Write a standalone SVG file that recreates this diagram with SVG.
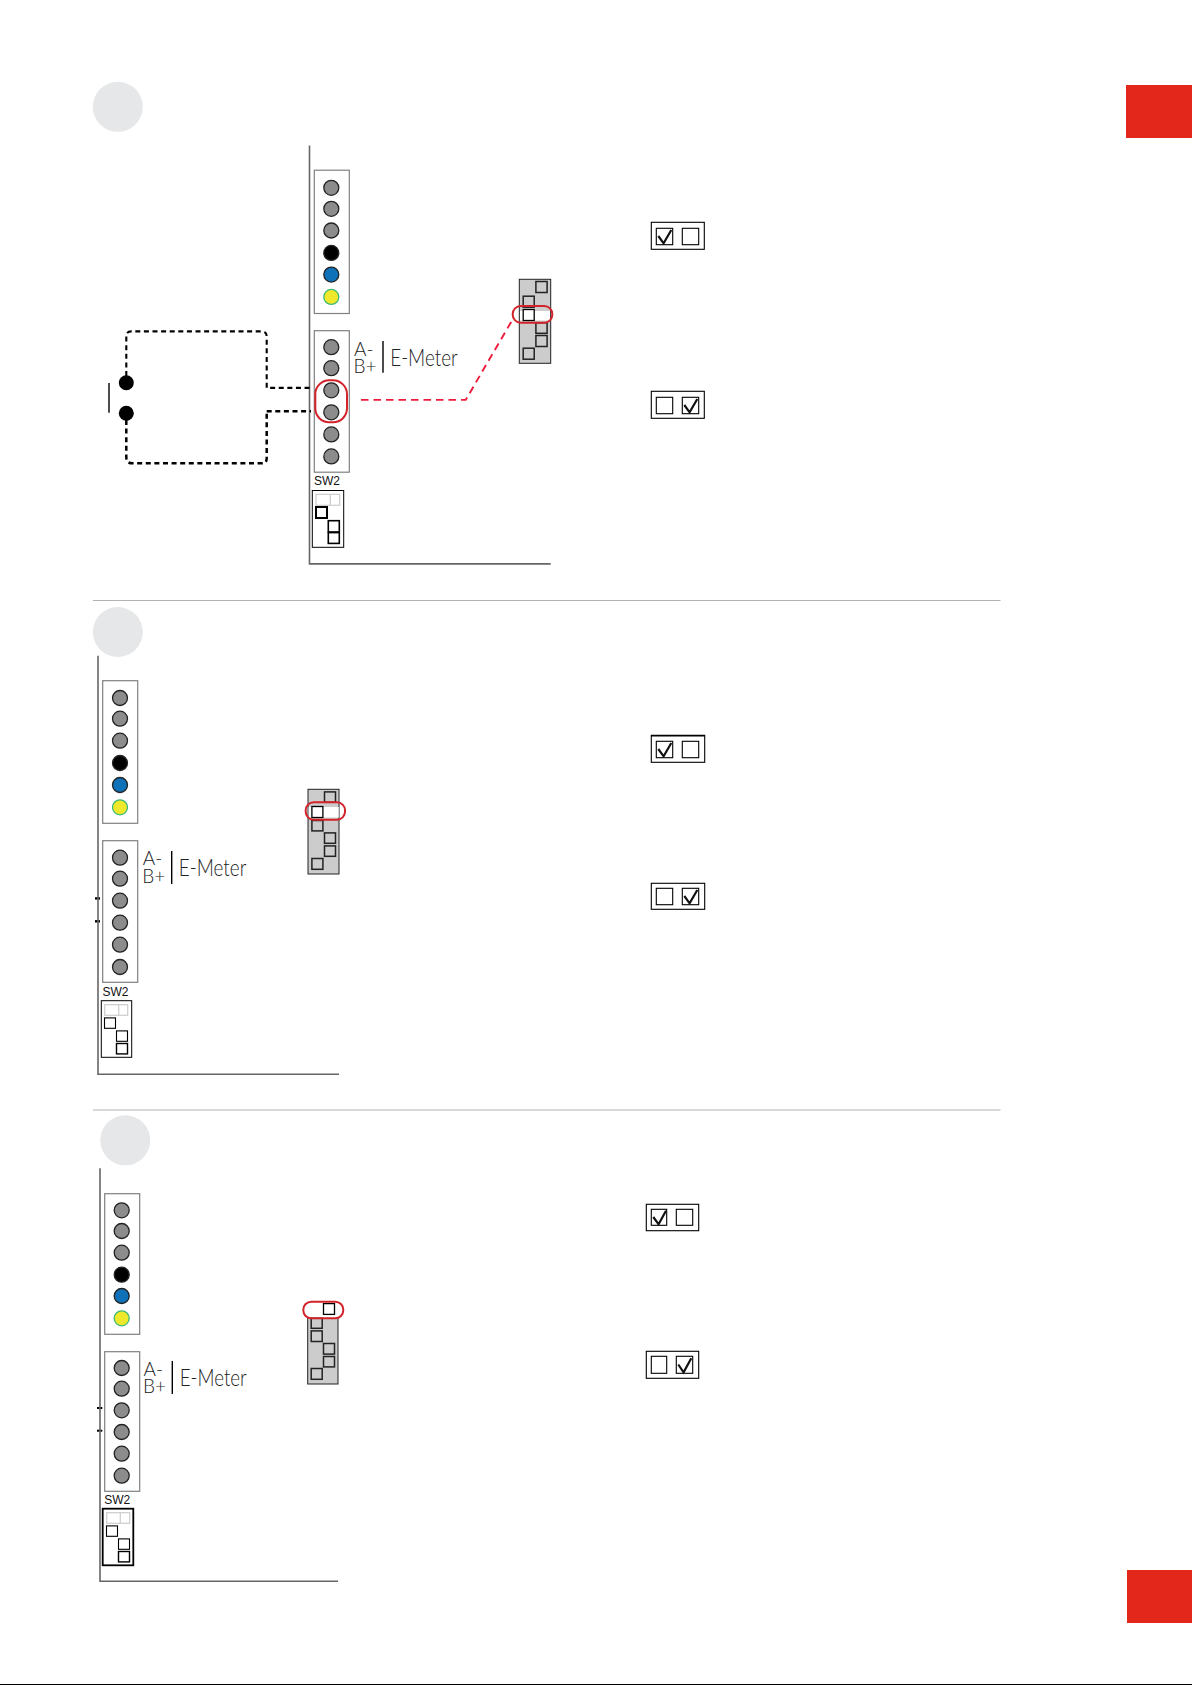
<svg xmlns="http://www.w3.org/2000/svg" width="1192" height="1685" viewBox="0 0 1192 1685">
<style>
.step{fill:#e6e7e8}
.hr{stroke:#b3b3b3;stroke-width:1.2;fill:none}
.panel{stroke:#666;stroke-width:1.6;fill:none}
.strip{fill:#fff;stroke:#808080;stroke-width:1.2}
.g{fill:#8c8c8c;stroke:#222;stroke-width:1.3}
.k{fill:#000;stroke:#222;stroke-width:1.3}
.b{fill:#0f72b9;stroke:#222;stroke-width:1.3}
.y{fill:#f0e82a;stroke:#3cb878;stroke-width:1.3}
.lbl{font-family:"Lato","Liberation Sans",sans-serif;font-weight:300;fill:#222;font-size:19px}
.em{font-family:"Lato","Liberation Sans",sans-serif;font-weight:300;fill:#222;font-size:23px}
.sw{font-family:"Liberation Sans",Arial,sans-serif;font-size:12px;fill:#111}
.sep{stroke:#000;stroke-width:1.4;fill:none}
.swb{fill:#fff;stroke:#000;stroke-width:1}
.gs{fill:#fff;stroke:#ccc;stroke-width:1.2}
.ws{fill:#fff;stroke:#000;stroke-width:1.1}
.jb{fill:#ccc;stroke:#222;stroke-width:1}
.js{fill:#ccc;stroke:#222;stroke-width:1.5}
.jw{fill:#fff;stroke:#000;stroke-width:1.3}
.red{fill:none;stroke:#d2232a;stroke-width:2}
.rd{fill:none;stroke:#ed1c3c;stroke-width:1.9;stroke-dasharray:7.5 5}
.wire{fill:none;stroke:#000;stroke-width:2.1;stroke-dasharray:5 3.6}
.cb{fill:#fff;stroke:#000;stroke-width:1.1}
.ck{fill:none;stroke:#111;stroke-width:2.2}
.tab{fill:#e3271b}
</style>
<rect width="1192" height="1685" fill="#fff"/>
<g id="tabs">
<rect class="tab" x="1126" y="85" width="66" height="53"/>
<rect class="tab" x="1127" y="1570" width="65" height="53"/>
<rect x="0" y="1684" width="1192" height="1" fill="#000"/>
</g>
<g id="rules">
<line class="hr" x1="93" y1="600.5" x2="1000.5" y2="600.5"/>
<line class="hr" x1="93" y1="1110" x2="1000.5" y2="1110"/>
</g>
<g id="step1">
<circle class="step" cx="117.8" cy="106.8" r="25"/>
<path class="panel" d="M309.5 145.4V563.9H550.7"/>
<g id="s1-strip1">
<rect class="strip" x="314.3" y="170.2" width="35" height="143.3"/>
<circle class="g" cx="331.3" cy="187.8" r="7.5"/><circle class="g" cx="331.3" cy="208.8" r="7.5"/><circle class="g" cx="331.3" cy="230.5" r="7.5"/><circle class="k" cx="331.3" cy="252.9" r="7.5"/><circle class="b" cx="331.3" cy="274.6" r="7.5"/><circle class="y" cx="331.3" cy="296.9" r="7.5"/>
</g>
<g id="s1-strip2">
<rect class="strip" x="314.3" y="330.7" width="35" height="141.5"/>
<circle class="g" cx="331.3" cy="347.2" r="7.5"/><circle class="g" cx="331.3" cy="368.2" r="7.5"/><circle class="g" cx="331.3" cy="390.3" r="7.5"/><circle class="g" cx="331.3" cy="412.3" r="7.5"/><circle class="g" cx="331.3" cy="434.4" r="7.5"/><circle class="g" cx="331.3" cy="456.4" r="7.5"/>
</g>
<g id="s1-label">
<text class="lbl" x="354" y="355.5">A-</text>
<text class="lbl" x="353.5" y="372.7">B+</text>
<line class="sep" x1="383" y1="341" x2="383" y2="372.7"/>
<text class="em" x="390.2" y="365.5" textLength="67.5" lengthAdjust="spacingAndGlyphs">E-Meter</text>
</g>
<g id="s1-sw2">
<text class="sw" x="314" y="485.3">SW2</text>
<rect class="swb" x="312.3" y="490.5" width="31.4" height="56.8"/>
<rect class="gs" x="316" y="494.3" width="23.7" height="11"/><line class="gs" x1="330.3" y1="494.3" x2="330.3" y2="505.3"/>
<rect class="ws" style="stroke-width:2" x="316" y="507" width="11" height="11"/>
<rect class="ws" style="stroke-width:1.6" x="328.3" y="520.7" width="11" height="11.3"/>
<rect class="ws" style="stroke-width:1.6" x="328.3" y="532.6" width="11" height="10.8"/>
</g>
<g id="s1-jumper">
<rect class="jb" x="519.3" y="279.3" width="31.4" height="84"/>
<rect x="520" y="311" width="30" height="9.5" fill="#fff"/>
<rect class="js" x="535.9" y="281.5" width="11.2" height="11"/>
<rect class="js" x="523.2" y="296.2" width="11" height="11"/>
<rect class="jw" x="523.2" y="309.5" width="11" height="11"/>
<rect class="js" x="535.9" y="322.7" width="11.2" height="10.6"/>
<rect class="js" x="535.9" y="335.5" width="11.2" height="11"/>
<rect class="js" x="523.2" y="348.2" width="11" height="11"/>
<rect class="red" x="512.7" y="306" width="39.6" height="16.7" rx="8"/>
</g>
<rect class="red" x="315.3" y="380.3" width="31.7" height="42" rx="14"/>
<g id="s1-sw-a"><rect class="cb" x="651.3" y="222.3" width="53" height="27"/><rect class="cb" x="656.3" y="228.3" width="16.4" height="16.4"/><rect class="cb" x="682.3" y="228.3" width="16.4" height="16.4"/><path class="ck" d="M658.3 236l5.3 7.3 7.7-13.3"/></g>
<g id="s1-sw-b"><rect class="cb" x="651.3" y="391.3" width="53" height="27"/><rect class="cb" x="656.3" y="397.3" width="16.4" height="16.4"/><rect class="cb" x="682.3" y="397.3" width="16.4" height="16.4"/><path class="ck" d="M684.3 405l5.3 7.3 7.7-13.3"/></g>
<g id="s1-device">
<circle cx="126.3" cy="382.7" r="7.5"/><circle cx="126.3" cy="413.3" r="7.5"/>
<line class="sep" x1="109" y1="383" x2="109" y2="412.7"/>
</g>
</g>
<g id="connectors">
<path class="wire" d="M126.3 376V336q0-4.6 5-4.6H261.5q5.2 0 5.200 5V387.9H311"/>
<path class="wire" style="stroke-width:2.5" d="M126.3 420V457q0 6.3 6 6.3H261.5q5.2 0 5.2-5V410.6"/>
<path class="wire" style="stroke-width:2.5" d="M266.7 411.3H311"/>
<path class="rd" d="M361 399.9H465.700L513.3 318.3"/>
<rect x="95" y="897.2" width="5" height="2.4"/>
<rect x="95" y="920.1" width="5" height="2.4"/>
<rect x="97" y="1407" width="5.3" height="2"/>
<rect x="97" y="1429.7" width="5.3" height="2"/>
</g>
<g id="step2">
<circle class="step" cx="117.8" cy="632" r="25"/>
<path class="panel" d="M98 655.7V1074.3H339"/>
<g id="s2-strip1">
<rect class="strip" x="102.7" y="680.7" width="35" height="142.6"/>
<circle class="g" cx="120" cy="698" r="7.5"/><circle class="g" cx="120" cy="718.7" r="7.5"/><circle class="g" cx="120" cy="740.7" r="7.5"/><circle class="k" cx="120" cy="763" r="7.5"/><circle class="b" cx="120" cy="785" r="7.5"/><circle class="y" cx="120" cy="807.3" r="7.5"/>
</g>
<g id="s2-strip2">
<rect class="strip" x="102.7" y="840.7" width="35" height="141.6"/>
<circle class="g" cx="120" cy="857.7" r="7.5"/><circle class="g" cx="120" cy="878.7" r="7.5"/><circle class="g" cx="120" cy="900.7" r="7.5"/><circle class="g" cx="120" cy="922.7" r="7.5"/><circle class="g" cx="120" cy="944.7" r="7.5"/><circle class="g" cx="120" cy="967" r="7.5"/>
</g>
<g id="s2-label">
<text class="lbl" x="142.7" y="865">A-</text>
<text class="lbl" x="142.2" y="883.3">B+</text>
<line class="sep" x1="171.7" y1="851" x2="171.7" y2="884"/>
<text class="em" x="178.8" y="875.7" textLength="67.5" lengthAdjust="spacingAndGlyphs">E-Meter</text>
</g>
<g id="s2-sw2">
<text class="sw" x="102.4" y="996">SW2</text>
<rect class="swb" x="101.3" y="1000.7" width="30.4" height="56.6"/>
<rect class="gs" x="104.7" y="1004.7" width="23" height="10.6"/><line class="gs" x1="118.7" y1="1004.7" x2="118.7" y2="1015.3"/>
<rect class="ws" x="104.5" y="1017.9" width="11" height="10.4"/>
<rect class="ws" x="116.5" y="1030.9" width="11" height="10.4"/>
<rect class="ws" style="stroke-width:1.4" x="116.5" y="1043.5" width="11" height="10.4"/>
</g>
<g id="s2-jumper">
<rect class="jb" x="308" y="789.3" width="31" height="84.7"/>
<rect x="308.7" y="807" width="30" height="10.5" fill="#fff"/>
<rect class="js" x="324.5" y="791.9" width="11" height="10.4"/>
<rect class="jw" x="311.9" y="806.5" width="11" height="11"/>
<rect class="js" x="311.9" y="820.5" width="11" height="10.4"/>
<rect class="js" x="324.5" y="832.9" width="11" height="10.4"/>
<rect class="js" x="324.5" y="845.9" width="11" height="10.4"/>
<rect class="js" x="311.9" y="858.5" width="11" height="10.8"/>
<rect class="red" x="305.7" y="802.3" width="39.3" height="17.4" rx="8"/>
</g>
<g id="s2-sw-a"><rect class="cb" x="651.3" y="735.3" width="53.4" height="27"/><line x1="651" y1="735.7" x2="705" y2="735.7" stroke="#000" stroke-width="1.5"/><rect class="cb" x="656.3" y="741.3" width="16.4" height="16.4"/><rect class="cb" x="682.3" y="741.3" width="16.4" height="16.4"/><path class="ck" d="M658.3 749l5.3 7.3 7.7-13.3"/></g>
<g id="s2-sw-b"><rect class="cb" x="651.3" y="883.3" width="53.4" height="26"/><rect class="cb" x="656.3" y="888.3" width="16.4" height="16.4"/><rect class="cb" x="682.3" y="888.3" width="16.4" height="16.4"/><path class="ck" d="M684.3 896l5.3 7.3 7.7-13.3"/></g>
</g>
<g id="step3">
<circle class="step" cx="125.3" cy="1140.3" r="25"/>
<path class="panel" d="M100 1168.3V1581.3H338"/>
<g id="s3-strip1">
<rect class="strip" x="104.7" y="1193.7" width="35" height="140.6"/>
<circle class="g" cx="121.7" cy="1210.3" r="7.5"/><circle class="g" cx="121.7" cy="1231" r="7.5"/><circle class="g" cx="121.7" cy="1252.7" r="7.5"/><circle class="k" cx="121.7" cy="1274.7" r="7.5"/><circle class="b" cx="121.7" cy="1296" r="7.5"/><circle class="y" cx="121.7" cy="1318.3" r="7.5"/>
</g>
<g id="s3-strip2">
<rect class="strip" x="104.7" y="1351.7" width="35" height="139.6"/>
<circle class="g" cx="121.7" cy="1368" r="7.5"/><circle class="g" cx="121.7" cy="1388.7" r="7.5"/><circle class="g" cx="121.7" cy="1410.3" r="7.5"/><circle class="g" cx="121.7" cy="1432" r="7.5"/><circle class="g" cx="121.7" cy="1453.7" r="7.5"/><circle class="g" cx="121.7" cy="1475.7" r="7.5"/>
</g>
<g id="s3-label">
<text class="lbl" x="143.500" y="1375.7">A-</text>
<text class="lbl" x="143" y="1393.3">B+</text>
<line class="sep" x1="172.3" y1="1361" x2="172.3" y2="1394"/>
<text class="em" x="179.7" y="1385.7" textLength="67" lengthAdjust="spacingAndGlyphs">E-Meter</text>
</g>
<g id="s3-sw2">
<text class="sw" x="104.2" y="1504.3">SW2</text>
<rect class="swb" style="stroke-width:1.8" x="102.7" y="1508.7" width="30.6" height="56.6"/>
<rect class="gs" x="106.7" y="1512.7" width="23" height="10.6"/><line class="gs" x1="120.3" y1="1512.7" x2="120.3" y2="1523.3"/>
<rect class="ws" x="106.5" y="1525.9" width="11" height="10.4"/>
<rect class="ws" x="118.5" y="1538.9" width="11" height="10.4"/>
<rect class="ws" style="stroke-width:1.4" x="118.5" y="1551.5" width="11" height="10.4"/>
</g>
<g id="s3-jumper">
<rect class="jb" x="307.7" y="1303.3" width="30.3" height="80.7"/>
<rect x="300" y="1300" width="45" height="18" fill="#fff"/>
<rect class="jw" x="323.5" y="1303.6" width="11" height="10.8"/>
<rect class="js" x="311.2" y="1318.3" width="11" height="10"/>
<rect class="js" x="311.2" y="1330.9" width="11" height="10.6"/>
<rect class="js" x="323.5" y="1343.5" width="11" height="10.6"/>
<rect class="js" x="323.5" y="1356.5" width="11" height="10.4"/>
<rect class="js" x="311.2" y="1368.5" width="11" height="10.8"/>
<rect class="red" x="303.3" y="1301.7" width="40" height="16.6" rx="8"/>
</g>
<g id="s3-sw-a"><rect class="cb" x="646.3" y="1204.3" width="52.4" height="26.4"/><rect class="cb" x="651.3" y="1209.3" width="15.4" height="16"/><rect class="cb" x="676.3" y="1209.3" width="16.4" height="16"/><path class="ck" d="M653.3 1217l5.3 7.3 7.4-13.6"/></g>
<g id="s3-sw-b"><rect class="cb" x="646.3" y="1351.3" width="52.4" height="27"/><rect class="cb" x="651.3" y="1356.3" width="15.4" height="17"/><rect class="cb" x="676.3" y="1356.3" width="16.4" height="17"/><path class="ck" d="M678.3 1364.5l5.3 7.8 7.7-14"/></g>
</g>
</svg>
